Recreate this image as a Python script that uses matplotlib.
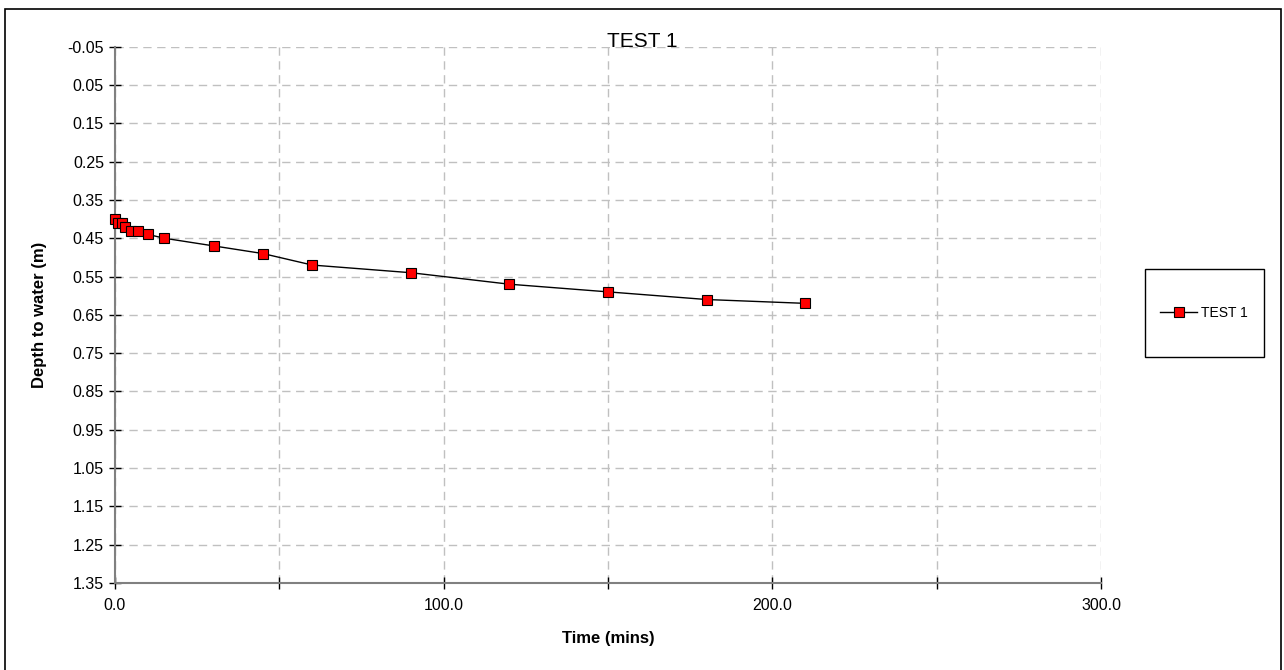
"""Depth to water vs time, TEST 1"""
import numpy as np
import matplotlib
matplotlib.use('Agg')
import matplotlib.pyplot as plt
from matplotlib.patches import Rectangle
from matplotlib.ticker import MultipleLocator, FuncFormatter

plt.rcParams['font.family'] = ['Liberation Sans', 'DejaVu Sans']

# Data
time_mins = [0, 1, 2, 3, 5, 7, 10, 15, 30, 45, 60, 90, 120, 150, 180, 210]
depth_m = [0.40, 0.41, 0.41, 0.42, 0.43, 0.43, 0.44, 0.45, 0.47, 0.49,
           0.52, 0.54, 0.57, 0.59, 0.61, 0.62]
series_name = 'TEST 1'
y_ticks = np.round(np.arange(-0.05, 1.36, 0.1), 2)

W, H = 1284, 670
fig = plt.figure(figsize=(W / 100, H / 100), dpi=100)
ax = fig.add_axes([115 / W, 1 - 583 / H, (1101 - 115) / W, (583 - 46.7) / H])

# outer frame of the chart
fig.patches.append(Rectangle((5 / W, -0.01), (1281 - 5) / W, 1 - 9 / H + 0.01,
                             transform=fig.transFigure, fill=False,
                             edgecolor='black', linewidth=1.2))

ax.plot(time_mins, depth_m, color='black', linewidth=1.0, marker='s',
        markersize=7, markerfacecolor='#ff0000', markeredgecolor='black',
        markeredgewidth=0.8, label=series_name, zorder=3, clip_on=False)

ax.set_xlim(0, 300)
ax.set_ylim(1.35, -0.05)
ax.xaxis.set_major_locator(MultipleLocator(50))
ax.xaxis.set_major_formatter(FuncFormatter(lambda v, p: '%.1f' % v if round(v) % 100 == 0 else ''))
ax.set_yticks(y_ticks)
ax.set_yticklabels(['%.2f' % v for v in y_ticks])

ax.grid(True, color='#c0c0c0', linestyle=(0, (6, 4)), linewidth=1.0)
ax.set_axisbelow(True)
for s in ('top', 'right'):
    ax.spines[s].set_visible(False)
for s in ('left', 'bottom'):
    ax.spines[s].set_color('#808080')
    ax.spines[s].set_linewidth(1.5)
ax.tick_params(direction='inout', length=8, width=1, color='black',
               labelsize=11.5)
ax.tick_params(axis='x', pad=7)
ax.tick_params(axis='y', pad=4)

ax.set_xlabel('Time (mins)', fontsize=12, fontweight='bold', labelpad=13)
ax.set_ylabel('Depth to water (m)', fontsize=12, fontweight='bold', labelpad=15)
fig.text(642 / W, 1 - 47 / H, 'TEST 1', fontsize=15, ha='center', va='baseline')

# legend box drawn separately so its size matches
fig.patches.append(Rectangle((1145 / W, 1 - 357 / H), (1264 - 1145) / W, (357 - 269) / H,
                             transform=fig.transFigure, fill=False,
                             edgecolor='black', linewidth=1.0))
ax.legend(loc='center', bbox_to_anchor=(1204 / W, 1 - 313 / H),
          bbox_transform=fig.transFigure, frameon=False, fontsize=10,
          handlelength=2.6, borderpad=0, borderaxespad=0, handletextpad=0.3)

fig.savefig('out.png', dpi=100)
